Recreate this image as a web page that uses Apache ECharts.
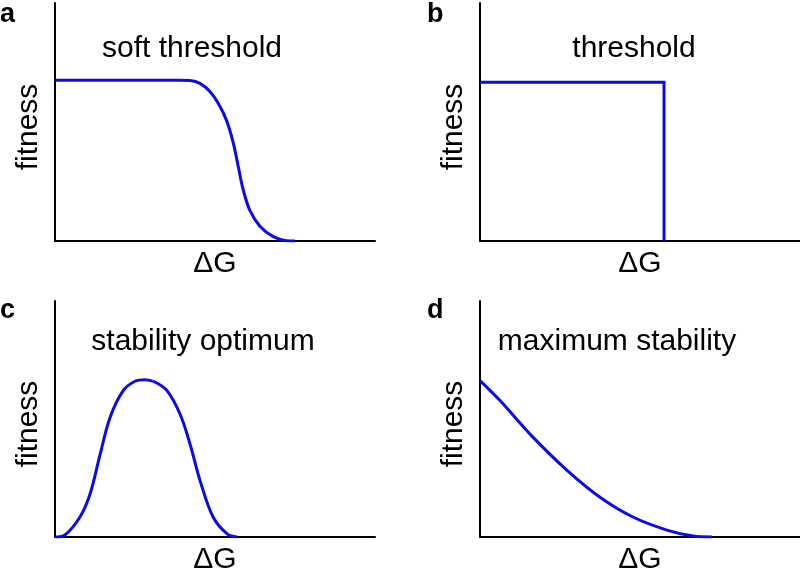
<!DOCTYPE html>
<html>
<head>
<meta charset="utf-8">
<script src="https://cdn.jsdelivr.net/npm/echarts@6/dist/echarts.min.js"></script>
<style>html,body{margin:0;padding:0;background:#fff;}#c{width:800px;height:576px;}</style>
</head>
<body>
<div id="c"></div>
<script>
// Panel titles and letters
const panelLetters = ['a', 'b', 'c', 'd'];
const panelTitles = ['soft threshold', 'threshold', 'stability optimum', 'maximum stability'];
const xAxisName = 'ΔG';
const yAxisName = 'fitness';

// Curves: [ΔG (arbitrary units 0-10), fitness (arbitrary)]
const softThresholdData = [
  [0, 1.0], [3.9, 1.0], [4.22, 0.998], [4.53, 0.98], [4.84, 0.93], [5.10, 0.856],
  [5.36, 0.75], [5.57, 0.61], [5.73, 0.46], [5.88, 0.32], [6.09, 0.19], [6.41, 0.09],
  [6.82, 0.027], [7.24, 0.002], [7.5, 0]
];
const thresholdData = [[0, 1.0], [5.75, 1.0], [5.75, 0]];
const optimumData = [
  [0, 0], [0.31, 0.013], [0.78, 0.127], [1.09, 0.27], [1.41, 0.525], [1.72, 0.76],
  [2.13, 0.93], [2.5, 0.99], [2.81, 1.0], [3.12, 0.985], [3.5, 0.93], [3.91, 0.78],
  [4.22, 0.59], [4.53, 0.36], [4.94, 0.127], [5.38, 0.02], [5.69, 0]
];
const maxStabilityData = [
  [0, 0.994], [0.625, 0.867], [1.66, 0.633], [2.72, 0.424], [3.75, 0.253],
  [4.78, 0.127], [5.84, 0.044], [6.66, 0.006], [7.25, 0]
];
const allData = [softThresholdData, thresholdData, optimumData, maxStabilityData];
const yMax = [1.48, 1.5, 1.5, 1.5];

const FONT = '"Liberation Sans", Arial, Helvetica, sans-serif';
const grids = [
  {left: 55, top: 3, width: 320, height: 238},
  {left: 480, top: 3, width: 320, height: 238},
  {left: 55, top: 301, width: 320, height: 237},
  {left: 480, top: 301, width: 320, height: 237}
];
const titlePos = [[192, 49], [634, 49], [203, 342], [617, 342]];
const letterPos = [[0, 15], [427, 15], [0, 311], [427, 311]];

const axisLine = {show: true, onZero: false, lineStyle: {color: '#000', width: 2}};
const xAxes = grids.map((g, i) => ({
  type: 'value', gridIndex: i, min: 0, max: 10,
  axisLine: axisLine, axisTick: {show: false}, axisLabel: {show: false}, splitLine: {show: false},
  name: xAxisName, nameLocation: 'middle', nameGap: 8,
  nameTextStyle: {fontSize: 30, color: '#000', fontFamily: FONT}
}));
const yAxes = grids.map((g, i) => ({
  type: 'value', gridIndex: i, min: 0, max: yMax[i],
  axisLine: axisLine, axisTick: {show: false}, axisLabel: {show: false}, splitLine: {show: false},
  name: yAxisName, nameLocation: 'middle', nameGap: 11,
  nameTextStyle: {fontSize: 30, color: '#000', fontFamily: FONT, padding: [0, 10, 0, 0]}
}));
const series = allData.map((d, i) => ({
  type: 'line', xAxisIndex: i, yAxisIndex: i, data: d,
  showSymbol: false, symbol: 'none',
  smooth: i === 1 ? false : 0.35,
  lineStyle: {color: '#0a0aee', width: 3, join: 'miter'},
  z: 3
}));
const graphics = [];
panelTitles.forEach((t, i) => {
  graphics.push({type: 'text', x: titlePos[i][0], y: titlePos[i][1],
    style: {text: t, fill: '#000', font: '30px ' + FONT, textAlign: 'center', textVerticalAlign: 'middle'}});
});
panelLetters.forEach((t, i) => {
  graphics.push({type: 'text', x: letterPos[i][0], y: letterPos[i][1],
    style: {text: t, fill: '#000', font: 'bold 27px ' + FONT, textAlign: 'left', textVerticalAlign: 'middle'}});
});

const chart = echarts.init(document.getElementById('c'), null, {renderer: 'canvas'});
chart.setOption({
  animation: false,
  backgroundColor: '#fff',
  grid: grids,
  xAxis: xAxes,
  yAxis: yAxes,
  series: series,
  graphic: graphics
});
</script>
</body>
</html>
